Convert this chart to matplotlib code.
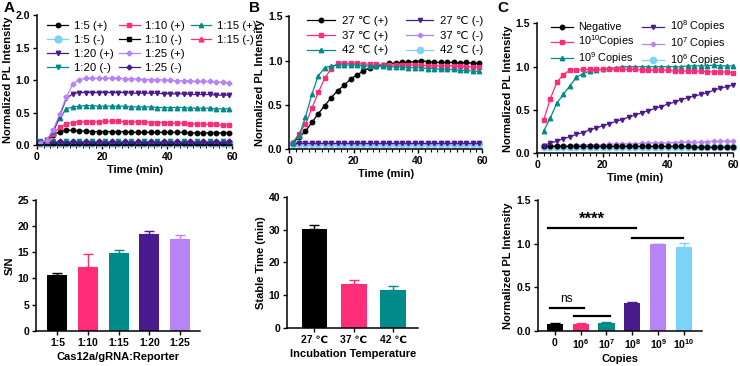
import matplotlib
matplotlib.use("Agg")
import matplotlib.pyplot as plt
from matplotlib.lines import Line2D

plt.rcParams['font.family'] = ['Liberation Sans', 'DejaVu Sans']
plt.rcParams['mathtext.fontset'] = 'custom'
plt.rcParams['mathtext.rm'] = 'Liberation Sans'
plt.rcParams['mathtext.bf'] = 'Liberation Sans:bold'
plt.rcParams['axes.linewidth'] = 1.1

BLACK = '#000000'
PINK = '#ff2d78'
TEAL = '#008b8b'
DPURP = '#4b1a8c'
LPURP = '#b784f5'
LBLUE = '#7dd3f7'

# ---------------- Panel A (top) ----------------
time_A = [1, 3, 5, 7, 9, 11, 13, 15, 17, 19, 21, 23, 25, 27, 29, 31, 33, 35, 37, 39,
          41, 43, 45, 47, 49, 51, 53, 55, 57, 59]
a_125p = [0.04, 0.08, 0.24, 0.48, 0.74, 0.94, 1.01, 1.03, 1.03, 1.03, 1.03, 1.03, 1.03, 1.02, 1.02,
          1.02, 1.01, 1.01, 1.01, 1.00, 1.00, 0.99, 0.99, 0.99, 0.98, 0.98, 0.98, 0.97, 0.97, 0.96]
a_120p = [0.04, 0.08, 0.22, 0.45, 0.72, 0.79, 0.81, 0.81, 0.81, 0.81, 0.81, 0.81, 0.81, 0.81, 0.80,
          0.80, 0.80, 0.80, 0.80, 0.79, 0.79, 0.79, 0.79, 0.78, 0.78, 0.78, 0.78, 0.77, 0.77, 0.77]
a_115p = [0.04, 0.08, 0.22, 0.42, 0.56, 0.59, 0.60, 0.61, 0.61, 0.60, 0.60, 0.60, 0.60, 0.60, 0.59,
          0.59, 0.59, 0.59, 0.58, 0.58, 0.58, 0.58, 0.58, 0.57, 0.57, 0.57, 0.57, 0.56, 0.56, 0.56]
a_110p = [0.04, 0.07, 0.17, 0.28, 0.33, 0.35, 0.36, 0.36, 0.36, 0.36, 0.37, 0.37, 0.37, 0.36, 0.36,
          0.36, 0.36, 0.35, 0.35, 0.35, 0.34, 0.34, 0.34, 0.33, 0.33, 0.33, 0.32, 0.32, 0.31, 0.31]
a_15p = [0.03, 0.06, 0.16, 0.21, 0.23, 0.23, 0.22, 0.22, 0.21, 0.21, 0.21, 0.21, 0.21, 0.21, 0.20,
         0.20, 0.20, 0.20, 0.20, 0.20, 0.20, 0.20, 0.20, 0.19, 0.19, 0.19, 0.19, 0.19, 0.19, 0.19]
a_15n = [0.03, 0.03, 0.03, 0.03, 0.03, 0.03, 0.03, 0.03, 0.03, 0.03, 0.03, 0.03, 0.03, 0.03, 0.03,
         0.03, 0.03, 0.03, 0.03, 0.03, 0.03, 0.03, 0.03, 0.03, 0.03, 0.03, 0.03, 0.03, 0.03, 0.03]
a_110n = [0.04, 0.04, 0.04, 0.04, 0.04, 0.04, 0.04, 0.04, 0.04, 0.04, 0.04, 0.04, 0.04, 0.04, 0.04,
          0.04, 0.04, 0.04, 0.04, 0.04, 0.04, 0.04, 0.04, 0.04, 0.04, 0.04, 0.04, 0.04, 0.04, 0.04]
a_115n = [0.05, 0.05, 0.05, 0.05, 0.05, 0.05, 0.05, 0.05, 0.05, 0.05, 0.05, 0.05, 0.05, 0.05, 0.05,
          0.05, 0.05, 0.05, 0.05, 0.05, 0.05, 0.05, 0.05, 0.05, 0.05, 0.05, 0.05, 0.05, 0.05, 0.05]
a_120n = [0.06, 0.03, 0.06, 0.03, 0.06, 0.03, 0.06, 0.03, 0.06, 0.03, 0.06, 0.03, 0.06, 0.03, 0.06,
          0.03, 0.06, 0.03, 0.06, 0.03, 0.06, 0.03, 0.06, 0.03, 0.06, 0.03, 0.06, 0.03, 0.06, 0.03]
a_125n = [0.03, 0.06, 0.03, 0.06, 0.03, 0.06, 0.03, 0.06, 0.03, 0.06, 0.03, 0.06, 0.03, 0.06, 0.03,
          0.06, 0.03, 0.06, 0.03, 0.06, 0.03, 0.06, 0.03, 0.06, 0.03, 0.06, 0.03, 0.06, 0.03, 0.06]

# ---------------- Panel B (top) ----------------
time_B = time_A
b_27p = [0.07, 0.13, 0.20, 0.30, 0.40, 0.49, 0.58, 0.66, 0.72, 0.79, 0.84, 0.88, 0.92, 0.94, 0.95,
         0.97, 0.97, 0.98, 0.98, 0.99, 1.00, 0.99, 0.98, 0.98, 0.98, 0.98, 0.97, 0.98, 0.97, 0.97]
b_37p = [0.07, 0.17, 0.28, 0.46, 0.64, 0.80, 0.91, 0.97, 0.97, 0.97, 0.97, 0.96, 0.96, 0.96, 0.95,
         0.95, 0.95, 0.95, 0.95, 0.95, 0.95, 0.94, 0.94, 0.94, 0.94, 0.94, 0.94, 0.93, 0.93, 0.93]
b_42p = [0.07, 0.15, 0.36, 0.62, 0.83, 0.92, 0.94, 0.95, 0.95, 0.95, 0.95, 0.94, 0.94, 0.94, 0.94,
         0.93, 0.93, 0.93, 0.92, 0.92, 0.92, 0.91, 0.91, 0.90, 0.90, 0.90, 0.89, 0.89, 0.88, 0.88]
b_27n = [0.07, 0.07, 0.07, 0.07, 0.07, 0.07, 0.07, 0.07, 0.07, 0.07, 0.07, 0.07, 0.07, 0.07, 0.07,
         0.07, 0.07, 0.07, 0.07, 0.07, 0.07, 0.07, 0.07, 0.07, 0.07, 0.07, 0.07, 0.07, 0.07, 0.07]
b_37n = [0.07, 0.07, 0.07, 0.07, 0.07, 0.07, 0.07, 0.07, 0.07, 0.07, 0.07, 0.07, 0.07, 0.07, 0.07,
         0.07, 0.07, 0.07, 0.07, 0.07, 0.07, 0.07, 0.07, 0.07, 0.07, 0.07, 0.07, 0.07, 0.07, 0.07]
b_42n = [0.06, 0.06, 0.06, 0.06, 0.06, 0.06, 0.06, 0.06, 0.06, 0.06, 0.06, 0.06, 0.06, 0.06, 0.06,
         0.06, 0.06, 0.06, 0.06, 0.06, 0.06, 0.06, 0.06, 0.06, 0.06, 0.06, 0.06, 0.06, 0.06, 0.06]

# ---------------- Panel C (top) ----------------
time_C = [2, 4, 6, 8, 10, 12, 14, 16, 18, 20, 22, 24, 26, 28, 30, 32, 34, 36, 38, 40,
          42, 44, 46, 48, 50, 52, 54, 56, 58, 60]
c_neg = [0.08, 0.08, 0.08, 0.08, 0.08, 0.08, 0.08, 0.08, 0.08, 0.08, 0.08, 0.08, 0.08, 0.08, 0.08,
         0.08, 0.08, 0.08, 0.08, 0.08, 0.08, 0.08, 0.08, 0.07, 0.07, 0.07, 0.07, 0.07, 0.07, 0.07]
c_1e10 = [0.39, 0.63, 0.82, 0.91, 0.96, 0.96, 0.97, 0.97, 0.97, 0.97, 0.97, 0.97, 0.97, 0.97, 0.97,
          0.96, 0.96, 0.96, 0.96, 0.96, 0.95, 0.95, 0.95, 0.95, 0.95, 0.94, 0.94, 0.94, 0.94, 0.93]
c_1e9 = [0.26, 0.41, 0.58, 0.68, 0.78, 0.88, 0.92, 0.95, 0.96, 0.97, 0.98, 0.99, 1.00, 1.00, 1.00,
         1.00, 1.00, 1.00, 1.00, 1.00, 1.00, 1.00, 1.01, 1.01, 1.01, 1.01, 1.02, 1.01, 1.01, 1.01]
c_1e8 = [0.09, 0.12, 0.14, 0.17, 0.19, 0.22, 0.24, 0.27, 0.29, 0.32, 0.34, 0.37, 0.39, 0.42, 0.44,
         0.47, 0.49, 0.52, 0.54, 0.57, 0.59, 0.62, 0.64, 0.66, 0.68, 0.70, 0.73, 0.75, 0.77, 0.79]
c_1e7 = [0.08, 0.085, 0.09, 0.09, 0.09, 0.095, 0.10, 0.10, 0.10, 0.10, 0.105, 0.11, 0.11, 0.11, 0.11,
         0.115, 0.12, 0.12, 0.12, 0.12, 0.125, 0.13, 0.13, 0.13, 0.13, 0.135, 0.14, 0.14, 0.14, 0.14]
c_1e6 = [0.07, 0.07, 0.07, 0.07, 0.07, 0.07, 0.07, 0.07, 0.07, 0.07, 0.07, 0.07, 0.07, 0.07, 0.07,
         0.07, 0.07, 0.07, 0.07, 0.07, 0.07, 0.07, 0.07, 0.07, 0.07, 0.07, 0.07, 0.07, 0.07, 0.07]

# ---------------- Bar panels ----------------
ratio_cats = ['1:5', '1:10', '1:15', '1:20', '1:25']
ratio_sn = [10.7, 12.1, 14.9, 18.5, 17.5]
ratio_err = [0.4, 2.6, 0.6, 0.5, 0.8]

temp_cats = ['27 ℃', '37 ℃', '42 ℃']
temp_stable = [30.3, 13.6, 11.6]
temp_err = [1.2, 1.2, 1.2]

copy_cats = ['0', r'$\mathbf{10^{6}}$', r'$\mathbf{10^{7}}$', r'$\mathbf{10^{8}}$',
             r'$\mathbf{10^{9}}$', r'$\mathbf{10^{10}}$']
copy_int = [0.08, 0.08, 0.09, 0.32, 0.99, 0.96]
copy_err = [0.005, 0.005, 0.005, 0.01, 0.005, 0.05]

TICK_FS = 7.5
LAB_FS = 8
LEG_FS = 8.2

fig = plt.figure(figsize=(7.4, 3.66), dpi=100)


def style(ax):
    for s in ['top', 'right']:
        ax.spines[s].set_visible(False)
    ax.tick_params(axis='both', labelsize=TICK_FS, width=1.0, length=3, direction='out', pad=2)
    ax.tick_params(axis='x', which='minor', length=2, width=0.8)
    for lab in ax.get_xticklabels() + ax.get_yticklabels():
        lab.set_fontweight('bold')


def line(ax, x, y, color, marker, ms=3.5, mfc=None):
    ax.plot(x, y, color=color, marker=marker, ms=ms, lw=0.9, mfc=mfc or color,
            mec=color, clip_on=False)


# Panel A top
axA = fig.add_axes([0.050, 0.603, 0.264, 0.356])
line(axA, time_A, a_15n, LBLUE, 'o', ms=5)
line(axA, time_A, a_110n, BLACK, 's', ms=3)
line(axA, time_A, a_115n, PINK, '^', ms=3)
line(axA, time_A, a_120n, TEAL, 'v', ms=3)
line(axA, time_A, a_125n, DPURP, 'D', ms=2.5)
line(axA, time_A, a_15p, BLACK, 'o', ms=3.2)
line(axA, time_A, a_110p, PINK, 's', ms=3.2)
line(axA, time_A, a_115p, TEAL, '^', ms=3.2)
line(axA, time_A, a_120p, DPURP, 'v', ms=3.2)
line(axA, time_A, a_125p, LPURP, 'P', ms=3.2)
axA.set_xlim(0, 60)
axA.set_ylim(0, 2.0)
axA.set_xticks([0, 20, 40, 60])
axA.set_xticks(range(0, 61, 2), minor=True)
axA.set_yticks([0, 0.5, 1.0, 1.5, 2.0])
axA.set_yticklabels(['0.0', '0.5', '1.0', '1.5', '2.0'])
axA.set_xlabel('Time (min)', fontsize=LAB_FS, fontweight='bold', labelpad=2)
axA.set_ylabel('Normalized PL Intensity', fontsize=LAB_FS, fontweight='bold', labelpad=2)
style(axA)


def h(color, marker, ms=3.5):
    return Line2D([], [], color=color, marker=marker, ms=ms, lw=0.9, mfc=color, mec=color)


blank = Line2D([], [], alpha=0)
handlesA = [h(BLACK, 'o', 3.2), h(LBLUE, 'o', 5), h(DPURP, 'v', 3.2), h(TEAL, 'v', 3.2),
            h(PINK, 's', 3.2), h(BLACK, 's', 3.5), h(LPURP, 'P', 3.2), h(DPURP, 'D', 2.5),
            h(TEAL, '^', 3.2), h(PINK, '^', 3.5), blank, blank]
labelsA = ['1:5 (+)', '1:5 (-)', '1:20 (+)', '1:20 (-)',
           '1:10 (+)', '1:10 (-)', '1:25 (+)', '1:25 (-)',
           '1:15 (+)', '1:15 (-)', '', '']
axA.legend(handlesA, labelsA, ncol=3, loc='upper left', bbox_to_anchor=(0.03, 0.99),
           frameon=False, fontsize=LEG_FS, handlelength=1.8, handletextpad=0.5,
           columnspacing=0.5, labelspacing=0.35, borderaxespad=0)

# Panel B top
axB = fig.add_axes([0.391, 0.593, 0.261, 0.362])
line(axB, time_B, b_42n, LBLUE, 'o', ms=4.5)
line(axB, time_B, b_37n, LPURP, 'P', ms=3)
line(axB, time_B, b_27n, DPURP, 'v', ms=3)
line(axB, time_B, b_27p, BLACK, 'o', ms=3.2)
line(axB, time_B, b_37p, PINK, 's', ms=3.5)
line(axB, time_B, b_42p, TEAL, '^', ms=3.2)
axB.set_xlim(0, 60)
axB.set_ylim(0, 1.5)
axB.set_xticks([0, 20, 40, 60])
axB.set_xticks(range(0, 61, 2), minor=True)
axB.set_yticks([0, 0.5, 1.0, 1.5])
axB.set_yticklabels(['0.0', '0.5', '1.0', '1.5'])
axB.set_xlabel('Time (min)', fontsize=LAB_FS, fontweight='bold', labelpad=2)
axB.set_ylabel('Normalized PL Intensity', fontsize=LAB_FS, fontweight='bold', labelpad=2)
style(axB)
handlesB = [h(BLACK, 'o', 3.2), h(PINK, 's', 3.5), h(TEAL, '^', 3.2),
            h(DPURP, 'v', 3), h(LPURP, 'P', 3), h(LBLUE, 'o', 4.5)]
labelsB = ['27 ℃ (+)', '37 ℃ (+)', '42 ℃ (+)', '27 ℃ (-)', '37 ℃ (-)', '42 ℃ (-)']
axB.legend(handlesB, labelsB, ncol=2, loc='upper left', bbox_to_anchor=(0.07, 1.035),
           frameon=False, fontsize=LEG_FS, handlelength=2.4, handletextpad=0.6,
           columnspacing=1.6, labelspacing=0.4, borderaxespad=0)

# Panel C top
axC = fig.add_axes([0.726, 0.581, 0.265, 0.355])
line(axC, time_C, c_1e6, LBLUE, 'o', ms=4.5)
line(axC, time_C, c_1e7, LPURP, 'P', ms=3)
line(axC, time_C, c_neg, BLACK, 'o', ms=3.2)
line(axC, time_C, c_1e8, DPURP, 'v', ms=3)
line(axC, time_C, c_1e9, TEAL, '^', ms=3.2)
line(axC, time_C, c_1e10, PINK, 's', ms=3.5)
axC.set_xlim(0, 60)
axC.set_ylim(0, 1.5)
axC.set_xticks([0, 20, 40, 60])
axC.set_xticks(range(0, 61, 2), minor=True)
axC.set_yticks([0, 0.5, 1.0, 1.5])
axC.set_yticklabels(['0.0', '0.5', '1.0', '1.5'])
axC.set_xlabel('Time (min)', fontsize=LAB_FS, fontweight='bold', labelpad=2)
axC.set_ylabel('Normalized PL Intensity', fontsize=LAB_FS, fontweight='bold', labelpad=2)
style(axC)
handlesC = [h(BLACK, 'o', 3.2), h(PINK, 's', 3.5), h(TEAL, '^', 3.2),
            h(DPURP, 'v', 3), h(LPURP, 'P', 3), h(LBLUE, 'o', 4.5)]
labelsC = ['Negative', '10$^{10}$Copies', '10$^{9}$ Copies',
           '10$^{8}$ Copies', '10$^{7}$ Copies', '10$^{6}$ Copies']
axC.legend(handlesC, labelsC, ncol=2, loc='upper left', bbox_to_anchor=(0.05, 1.07),
           frameon=False, fontsize=7.8, handlelength=2.0, handletextpad=0.5,
           columnspacing=0.7, labelspacing=0.1, borderaxespad=0)


def bars(ax, cats, vals, errs, colors, width):
    xs = list(range(len(cats)))
    for x, v, e, c in zip(xs, vals, errs, colors):
        ax.bar(x, v, width=width, color=c, zorder=2)
        ax.errorbar(x, v, yerr=[[0], [e]], color=c, capsize=3.5, elinewidth=1.0,
                    capthick=1.0, zorder=1)
    ax.set_xticks(xs)
    ax.set_xticklabels(cats)


# Panel A bottom
axD = fig.add_axes([0.0486, 0.0964, 0.2216, 0.357])
bars(axD, ratio_cats, ratio_sn, ratio_err, [BLACK, PINK, TEAL, DPURP, LPURP], 0.65)
axD.set_xlim(-0.7, 4.65)
axD.set_ylim(0, 25)
axD.set_yticks([0, 5, 10, 15, 20, 25])
axD.set_xlabel('Cas12a/gRNA:Reporter', fontsize=LAB_FS, fontweight='bold', labelpad=3)
axD.set_ylabel('S/N', fontsize=LAB_FS, fontweight='bold', labelpad=2)
style(axD)

# Panel B bottom
axE = fig.add_axes([0.3882, 0.103, 0.177, 0.3596])
bars(axE, temp_cats, temp_stable, temp_err, [BLACK, PINK, TEAL], 0.65)
axE.set_xlim(-0.69, 2.64)
axE.set_ylim(0, 40)
axE.set_yticks([0, 10, 20, 30, 40])
axE.set_xlabel('Incubation Temperature', fontsize=LAB_FS, fontweight='bold', labelpad=3)
axE.set_ylabel('Stable Time (min)', fontsize=LAB_FS, fontweight='bold', labelpad=2)
style(axE)

# Panel C bottom
axF = fig.add_axes([0.7266, 0.0964, 0.2216, 0.357])
bars(axF, copy_cats, copy_int, copy_err, [BLACK, PINK, TEAL, DPURP, LPURP, LBLUE], 0.62)
axF.set_xlim(-0.66, 5.68)
axF.set_ylim(0, 1.5)
axF.set_yticks([0, 0.5, 1.0, 1.5])
axF.set_yticklabels(['0.0', '0.5', '1.0', '1.5'])
axF.set_xlabel('Copies', fontsize=LAB_FS, fontweight='bold', labelpad=2)
axF.set_ylabel('Normalized PL Intensity', fontsize=LAB_FS, fontweight='bold', labelpad=2)
style(axF)
# significance annotations
axF.plot([-0.26, 3.13], [1.175, 1.175], color='black', lw=1.6, clip_on=False)
axF.plot([2.97, 4.96], [1.07, 1.07], color='black', lw=1.6, clip_on=False)
axF.text(1.43, 1.19, '****', ha='center', va='bottom', fontsize=12, fontweight='bold')
axF.plot([-0.18, 1.13], [0.257, 0.257], color='black', lw=1.6)
axF.plot([0.76, 2.13], [0.169, 0.169], color='black', lw=1.6)
axF.text(0.46, 0.3, 'ns', ha='center', va='bottom', fontsize=8.5)

# panel letters
fig.text(0.005, 0.998, 'A', fontsize=11, fontweight='bold', va='top')
fig.text(0.336, 0.998, 'B', fontsize=11, fontweight='bold', va='top')
fig.text(0.672, 0.998, 'C', fontsize=11, fontweight='bold', va='top')

fig.savefig('out.png', dpi=100)
